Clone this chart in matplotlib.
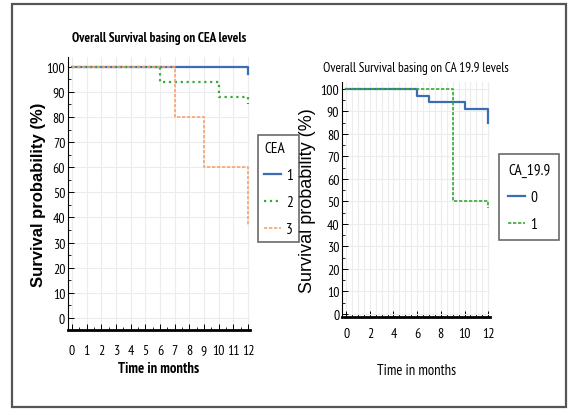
import matplotlib.pyplot as plt
from matplotlib.patches import Rectangle
from matplotlib.ticker import MultipleLocator

# CEA groups (time in months, survival %)
cea1_t = [0, 12, 12]
cea1_s = [100, 100, 97]
cea2_t = [0, 6, 10, 12, 12]
cea2_s = [100, 94, 88, 88, 85]
cea3_t = [0, 7, 9, 12, 12]
cea3_s = [100, 80, 60, 60, 37]

# CA 19.9 groups
ca0_t = [0, 6, 7, 10, 12, 12]
ca0_s = [100, 97, 94, 91, 91, 85]
ca1_t = [0, 9, 12, 12]
ca1_s = [100, 50, 50, 47]

narrow = ['PT Sans Narrow', 'Roboto Condensed', 'DejaVu Sans']
wide = ['Liberation Sans', 'DejaVu Sans']

blue = '#3c6db3'
green = '#37a935'
orange = '#f5a46e'

fig = plt.figure(figsize=(5.74, 4.14), dpi=100)

# picture frame
fig.patches.append(Rectangle((0.021, 0.015), 0.965, 0.973, transform=fig.transFigure,
                             fill=False, edgecolor='#555555', linewidth=1.6))


def style_axes(ax, xlim, ylim, xstep, bold, xpad, xlpad, ylpad, ysize):
    ax.set_xlim(*xlim)
    ax.set_ylim(*ylim)
    ax.xaxis.set_major_locator(MultipleLocator(xstep))
    ax.xaxis.set_minor_locator(MultipleLocator(0.5))
    ax.yaxis.set_major_locator(MultipleLocator(10))
    ax.yaxis.set_minor_locator(MultipleLocator(5))
    ax.grid(True, which='major', color='#ececec', linewidth=0.8)
    if xstep == 2:
        ax.xaxis.grid(True, which='minor', color='#ececec', linewidth=0.8)
    ax.set_axisbelow(True)
    for s in ['top', 'right']:
        ax.spines[s].set_visible(False)
    ax.spines['bottom'].set_linewidth(2.0)
    ax.spines['left'].set_linewidth(0.8)
    ax.tick_params(axis='both', which='major', direction='in', length=4, width=0.7)
    ax.tick_params(axis='both', which='minor', direction='in', length=2.5, width=0.6)
    ax.tick_params(axis='x', which='major', pad=xpad)
    ax.tick_params(axis='y', which='major', pad=2)
    for lab in ax.get_xticklabels() + ax.get_yticklabels():
        lab.set_family(narrow)
        lab.set_fontsize(10)
    w = 'bold' if bold else 'normal'
    ax.set_xlabel('Time in months', family=narrow, fontsize=10.5, fontweight=w, labelpad=xlpad)
    ax.set_ylabel('Survival probability (%)', family=wide, fontsize=ysize,
                  fontweight=w, labelpad=ylpad)


def legend(handles, labels, title, anchor, size, pad):
    leg = fig.legend(handles=handles, labels=labels, title=title,
                     loc='upper left', bbox_to_anchor=anchor, borderaxespad=0,
                     frameon=True, fancybox=False, edgecolor='#444444',
                     handlelength=1.1, handletextpad=0.35, borderpad=pad,
                     labelspacing=0.85, prop={'family': narrow, 'size': size})
    leg.get_title().set_family(narrow)
    leg.get_title().set_fontsize(size)
    leg._legend_box.align = 'left'
    leg.get_frame().set_linewidth(1.2)
    return leg


# left panel
ax1 = fig.add_axes([0.1185, 0.2005, 0.317, 0.66])
ax1.step(cea1_t, cea1_s, where='post', color=blue, linewidth=1.6, label='1')
ax1.step(cea2_t, cea2_s, where='post', color=green, linewidth=1.6, linestyle=':', label='2')
ax1.step(cea3_t, cea3_s, where='post', color=orange, linewidth=1.2, linestyle=(0, (2, 1)), label='3')
style_axes(ax1, (-0.27, 12.14), (-4.8, 104), 1, True, 10, 3, 0, 12)
ax1.set_title('Overall Survival basing on CEA levels', family=narrow, fontsize=9.5,
              fontweight='bold', pad=11)
legend(ax1.get_lines(), ['1', '2', '3'], 'CEA', (0.4495, 0.671), 11, 0.4)

# right panel
ax2 = fig.add_axes([0.596, 0.232, 0.258, 0.568])
ax2.step(ca0_t, ca0_s, where='post', color=blue, linewidth=1.6, label='0')
ax2.step(ca1_t, ca1_s, where='post', color=green, linewidth=1.2, linestyle=(0, (2, 1)), label='1')
style_axes(ax2, (-0.34, 12.17), (-1.3, 103.1), 2, False, 7, 17, 3, 13)
ax2.set_title('Overall Survival basing on CA 19.9 levels', family=narrow, fontsize=9.5,
              pad=8)
legend(ax2.get_lines(), ['0', '1'], 'CA_19.9', (0.869, 0.626), 11, 0.6)

fig.savefig('out.png', dpi=100)
